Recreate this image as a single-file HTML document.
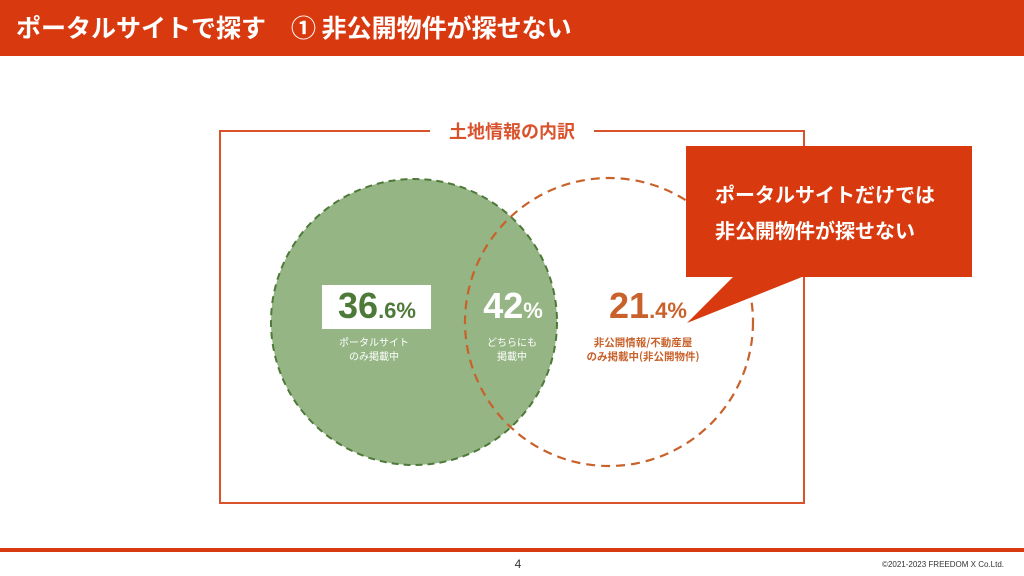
<!DOCTYPE html>
<html><head><meta charset="utf-8"><style>
html,body{margin:0;padding:0}
body{width:1024px;height:576px;position:relative;overflow:hidden;background:#fff;font-family:"Liberation Sans","Noto Sans CJK JP",sans-serif}
.hdr{position:absolute;left:0;top:0;width:1024px;height:56px;background:#d9390f;color:#fff;font-weight:bold;font-size:25px;line-height:54px;padding-left:16px;box-sizing:border-box;font-family:"Noto Sans CJK JP",sans-serif;white-space:pre}
.foot{position:absolute;left:0;top:548px;width:1024px;height:4px;background:#d9390f}
.pg{position:absolute;top:557px;left:0;width:1036px;text-align:center;font-size:12px;color:#333}
.copy{position:absolute;top:560px;right:20px;font-size:8px;color:#333}
</style></head><body>
<div class="hdr">ポータルサイトで探す　① 非公開物件が探せない</div>
<svg width="1024" height="576" style="position:absolute;left:0;top:0" font-family="Noto Sans CJK JP, sans-serif">
<path d="M430 131 H220 V503 H804 V131 H594" fill="none" stroke="#d9522c" stroke-width="2"/>
<text x="512" y="138" text-anchor="middle" font-size="18" font-weight="bold" fill="#d9522c">土地情報の内訳</text>
<circle cx="414" cy="322" r="143" fill="#95b585" stroke="#4e7a39" stroke-width="2" stroke-dasharray="7 5"/>
<circle cx="609" cy="322" r="144" fill="none" stroke="#c8612a" stroke-width="2.2" stroke-dasharray="9 6"/>
<rect x="322" y="285" width="109" height="44" fill="#fff"/>
<text x="377" y="318" text-anchor="middle" fill="#4e7a39" font-weight="bold" font-family="Liberation Sans, sans-serif"><tspan font-size="36">36</tspan><tspan font-size="22">.6%</tspan></text>
<text x="374" y="346" text-anchor="middle" font-size="10" fill="#fff">ポータルサイト</text>
<text x="374" y="360" text-anchor="middle" font-size="10" fill="#fff">のみ掲載中</text>
<text x="513" y="318" text-anchor="middle" fill="#fff" font-weight="bold" font-family="Liberation Sans, sans-serif"><tspan font-size="36">42</tspan><tspan font-size="22">%</tspan></text>
<text x="512" y="346" text-anchor="middle" font-size="10" fill="#fff">どちらにも</text>
<text x="512" y="360" text-anchor="middle" font-size="10" fill="#fff">掲載中</text>
<text x="648" y="318" text-anchor="middle" fill="#c8612a" font-weight="bold" font-family="Liberation Sans, sans-serif"><tspan font-size="36">21</tspan><tspan font-size="22">.4%</tspan></text>
<text x="643" y="346" text-anchor="middle" font-size="10.5" fill="#c8612a" font-weight="bold">非公開情報/不動産屋</text>
<text x="643" y="360" text-anchor="middle" font-size="10.5" fill="#c8612a" font-weight="bold">のみ掲載中(非公開物件)</text>
<path d="M686 146 H972 V277 H802 L687 323 L733 277 H686 Z" fill="#d9390f"/>
<text x="715" y="202" font-size="20" font-weight="bold" fill="#fff">ポータルサイトだけでは</text>
<text x="715" y="238" font-size="20" font-weight="bold" fill="#fff">非公開物件が探せない</text>
</svg>
<div class="foot"></div>
<div class="pg">4</div>
<div class="copy">©2021-2023 FREEDOM X Co.Ltd.</div>
</body></html>
